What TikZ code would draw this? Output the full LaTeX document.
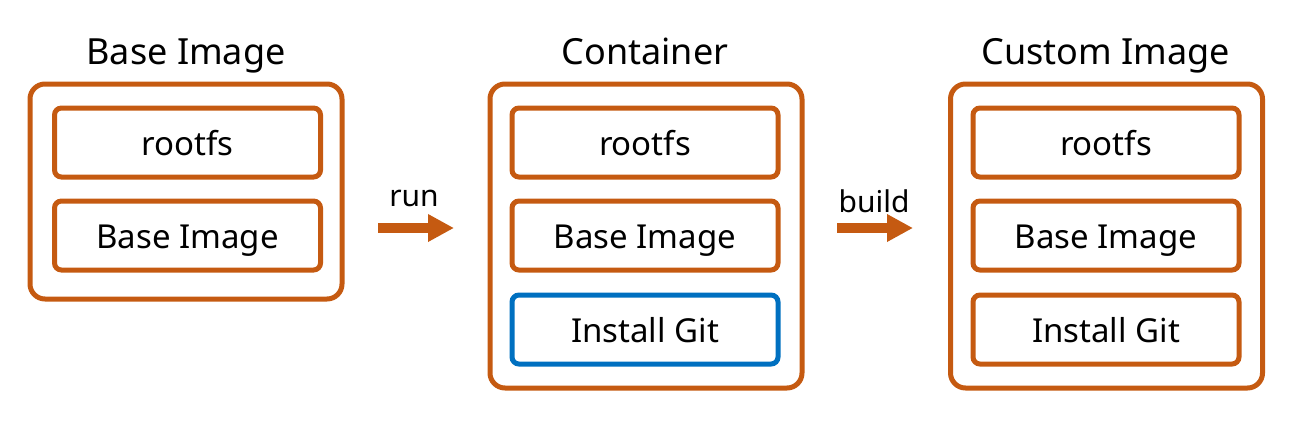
\documentclass[tikz,border=0pt]{standalone}
\usepackage{fontspec}
\setmainfont{Noto Sans}
\usetikzlibrary{arrows.meta}
\definecolor{boxorange}{HTML}{C55A11}
\definecolor{boxblue}{HTML}{0070C0}
\tikzset{
  outerbox/.style={draw=boxorange, line width=5pt, rounded corners=15pt, minimum width=312pt, inner sep=0pt},
  innerbox/.style={draw=boxorange, line width=5pt, rounded corners=7pt, minimum width=266pt, minimum height=69pt, inner sep=0pt, text height=25pt, text depth=0pt, font=\fontsize{33}{40}\selectfont},
  bluebox/.style={innerbox, draw=boxblue},
  titletext/.style={anchor=base, inner sep=0pt, font=\fontsize{36}{43}\selectfont},
  arrowtext/.style={anchor=base, inner sep=0pt, font=\fontsize{30}{36}\selectfont},
  bigarrow/.style={draw=boxorange, line width=9.5pt, -{Triangle[length=26pt,width=26pt]}}
}
\begin{document}
\begin{tikzpicture}[x=1pt,y=-1pt]
\useasboundingbox (0,0) rectangle (1293,429);
% titles
\node[titletext] (t1) at (186,64) {Base Image};
\node[titletext] (t2) at (645,64) {Container};
\node[titletext] (t3) at (1106,64) {Custom Image};
% outer boxes
\node[outerbox, minimum height=215pt] (o1) at (186,191.5) {};
\node[outerbox, minimum height=304pt] (o2) at (646,236) {};
\node[outerbox, minimum height=304pt] (o3) at (1106.5,236) {};
% inner boxes
\node[innerbox] (r1) at (187.5,142.5) {rootfs};
\node[innerbox] (b1) at (187.5,235.5) {Base Image};
\node[innerbox] (r2) at (645,142.5) {rootfs};
\node[innerbox] (b2) at (645,235.5) {Base Image};
\node[bluebox] (g2) at (645,329.5) {Install Git};
\node[innerbox] (r3) at (1106,142.5) {rootfs};
\node[innerbox] (b3) at (1106,235.5) {Base Image};
\node[innerbox] (g3) at (1106,329.5) {Install Git};
% arrows
\coordinate (a1s) at (378,228);
\coordinate (a1e) at (454,228);
\coordinate (a2s) at (837,228);
\coordinate (a2e) at (913,228);
\draw[bigarrow] (a1s) -- (a1e);
\draw[bigarrow] (a2s) -- (a2e);
\node[arrowtext] (l1) at (414,206) {run};
\node[arrowtext] (l2) at (874,212) {build};
\end{tikzpicture}
\end{document}
